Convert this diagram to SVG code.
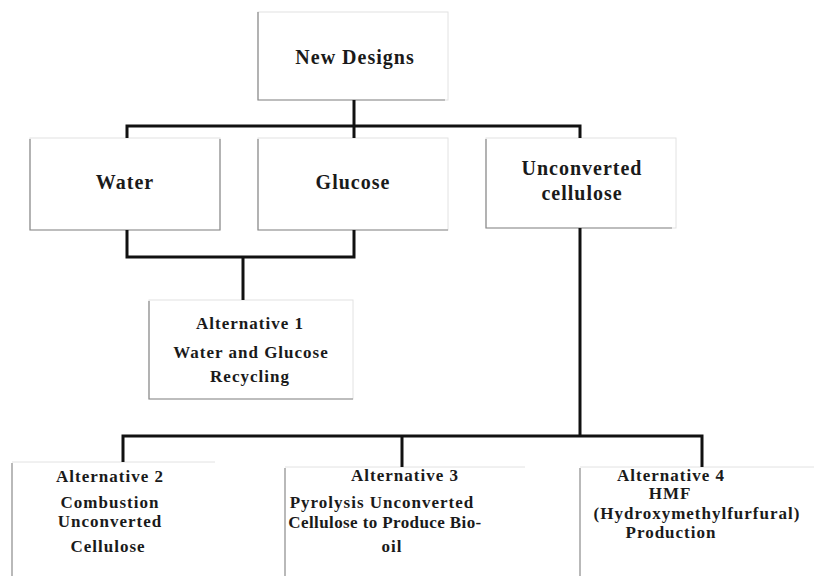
<svg xmlns="http://www.w3.org/2000/svg" width="814" height="576" viewBox="0 0 814 576">
<style>
.faint{fill:none;stroke:#e2e2e2;stroke-width:1}
.edge{fill:none;stroke:#8a8a8a;stroke-width:1.2}
.conn{fill:none;stroke:#111;stroke-width:3;stroke-linejoin:miter}
text{font-family:"Liberation Serif","Times New Roman",serif;font-weight:bold;fill:#1a1a1a;text-anchor:middle}
.big{font-size:20px;letter-spacing:1px}
.alt{font-size:17px;letter-spacing:1px}
.tight{letter-spacing:0.4px}
</style>
<rect width="814" height="576" fill="#fff"/>
<g id="new-designs">
<rect class="faint" x="258" y="12" width="190" height="88"/>
<path class="edge" d="M258,12 V100 H445"/>
<text class="big" x="355" y="64">New Designs</text>
</g>
<g id="water">
<rect class="faint" x="30" y="138" width="190" height="92"/>
<path class="edge" d="M30,139 V230 H220 V139"/>
<text class="big" x="125" y="189">Water</text>
</g>
<g id="glucose">
<rect class="faint" x="258" y="138" width="190" height="92"/>
<path class="edge" d="M258,139 V230 H448"/>
<text class="big" x="353" y="189">Glucose</text>
</g>
<g id="unconverted-cellulose">
<rect class="faint" x="486" y="138" width="190" height="90"/>
<path class="edge" d="M486,139 V228 H672"/>
<text class="big" x="582" y="175">Unconverted</text>
<text class="big" x="582" y="200">cellulose</text>
</g>
<g id="alternative-1">
<rect class="faint" x="149" y="300" width="204" height="99"/>
<path class="edge" d="M149,301 V399 H353"/>
<text class="alt" x="250" y="329">Alternative 1</text>
<text class="alt" x="251" y="358">Water and Glucose</text>
<text class="alt" x="250" y="382">Recycling</text>
</g>
<g id="alternative-2">
<path class="faint" d="M12,462 H215"/>
<path class="edge" d="M12,463 V576"/>
<text class="alt" x="110" y="482">Alternative 2</text>
<text class="alt" x="110" y="508">Combustion</text>
<text class="alt" x="110" y="527">Unconverted</text>
<text class="alt" x="108" y="552">Cellulose</text>
</g>
<g id="alternative-3">
<path class="faint" d="M285,467 H525"/>
<path class="edge" d="M285,468 V576"/>
<text class="alt" x="405" y="481">Alternative 3</text>
<text class="alt" x="382" y="508">Pyrolysis Unconverted</text>
<text class="alt tight" x="385" y="528">Cellulose to Produce Bio-</text>
<text class="alt" x="392" y="552">oil</text>
</g>
<g id="alternative-4">
<path class="faint" d="M580,467 H814"/>
<path class="edge" d="M580,468 V576"/>
<text class="alt" x="671" y="481">Alternative 4</text>
<text class="alt" x="670" y="499">HMF</text>
<text class="alt" x="697" y="519">(Hydroxymethylfurfural)</text>
<text class="alt" x="671" y="538">Production</text>
</g>
<g id="connectors">
<path class="conn" d="M354,100 V126"/>
<path class="conn" d="M127,138 V126 H580 V138"/>
<path class="conn" d="M354,126 V138"/>
<path class="conn" d="M127,230 V257 H354 V230"/>
<path class="conn" d="M243,257 V300"/>
<path class="conn" d="M580,228 V436"/>
<path class="conn" d="M123,462 V436 H702 V467"/>
<path class="conn" d="M402,436 V467"/>
</g>
</svg>
